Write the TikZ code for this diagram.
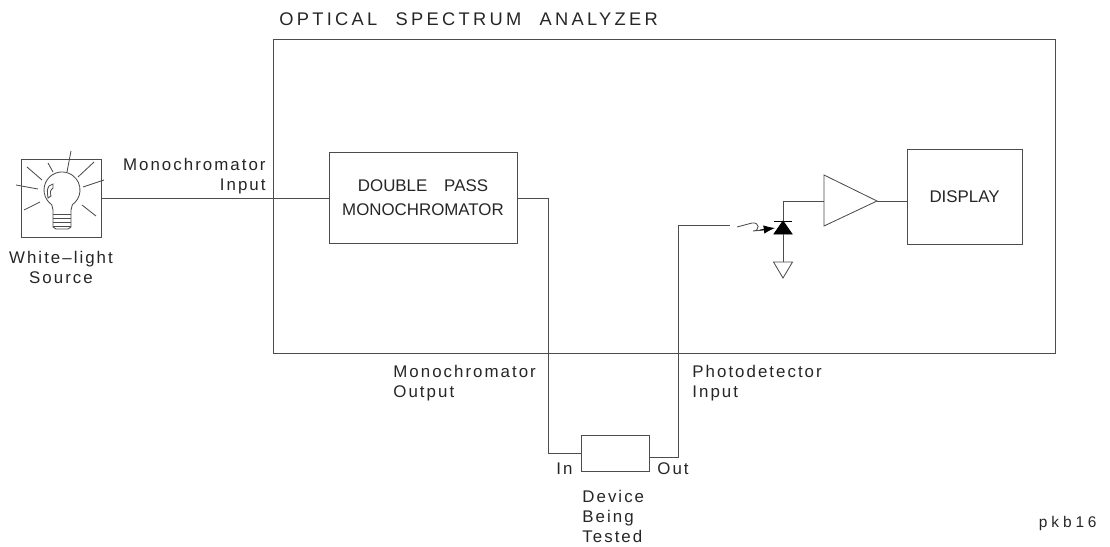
\documentclass[tikz,border=0pt]{standalone}
\usepackage{fontspec}
\setmainfont{Liberation Sans}
\newfontfamily\lblfont[LetterSpace=12]{Liberation Sans}
\newfontfamily\ttlfont[LetterSpace=18]{Liberation Sans}
\newfontfamily\tagfont[LetterSpace=25]{Liberation Sans}
\usetikzlibrary{arrows.meta}

\begin{document}
\begin{tikzpicture}[x=0.025cm,y=-0.025cm,line width=0.6pt,black!70,
    every node/.style={inner sep=0pt,text=black!85},
    blk/.style={draw,align=center,font=\fontsize{12}{17}\selectfont},
    lbl/.style={align=left,font=\lblfont\fontsize{12}{14.2}\selectfont}]
\useasboundingbox (0,0) rectangle (1110,546);

\node[blk,minimum width=19.525cm,minimum height=7.85cm] (osa) at (664.5,196) {};
\node[anchor=base west,font=\ttlfont\fontsize{13}{15}\selectfont] (ttl) at (279,25) {OPTICAL\quad SPECTRUM\quad ANALYZER};

\node[blk,minimum width=2cm,minimum height=1.95cm] (lamp) at (61,198) {};
\node[blk,minimum width=4.7cm,minimum height=2.275cm] (mono) at (423,198) {DOUBLE\quad PASS\\MONOCHROMATOR};
\node[blk,minimum width=1.7cm,minimum height=0.9cm] (dut) at (615,453) {};
\node[blk,minimum width=2.875cm,minimum height=2.375cm] (disp) at (964.5,196.5) {DISPLAY};

% lamp
\draw (51.7,204.7) arc (235:-55:0.45cm) -- (71,210) -- (71,227) -- (68,229) -- (56,229) -- (53,227) -- (53,210) -- cycle;
\foreach \ty in {214,218,222,226}
  \draw (53,\ty) -- (71,\ty);
\draw (53,184) -- (49,186) .. controls (47,190) .. (48,198) -- (51,196) .. controls (50,191) .. (53,188) -- cycle;
\foreach \ax/\ay/\bx/\by in {71/151/67/172, 48/163/53/172, 27/167/42/180, 16/185/38/189,
    24/210/40/202, 94/162/78/177, 104/180/83/187, 96/216/82/205}
  \draw (\ax,\ay) -- (\bx,\by);

% photodiode, amplifier
\coordinate (pdin) at (730,225);
\coordinate (dk) at (783,221);
\coordinate (da) at (783,234);
\coordinate (gnd) at (783,262);
\coordinate (ampin) at (824,201);
\coordinate (ampout) at (877,201);
\filldraw[black] (774,234) -- (792,234) -- (dk) -- cycle;
\draw[black] (774,221) -- (792,221);
\draw (737,227) -- (752,223) .. controls (760,222) and (760,231) .. (753,231) -- (764,230);
\draw[black,-{Latex[length=8pt,width=6pt]}] (760,230) -- (775,228);
\draw (gnd) ++(-9.5,0) -- ++(19,0) -- (783,278) -- cycle;
\draw (ampin |- 0,175) -- (ampout) -- (ampin |- 0,226) -- cycle;

% connections
\draw (lamp.east) -- (mono.west);
\draw (mono.east) -- ++(31,0) |- (dut.west);
\draw ([yshift=-1mm]dut.east) -- ++(29,0) |- (pdin);
\draw (da) -- (gnd);
\draw (dk) |- (ampin);
\draw (ampout) -- (ampout -| disp.west);

% labels
\node[lbl,anchor=base east,align=right] (minlbl) at (266,190) {Monochromator\\Input};
\node[lbl,anchor=base west] (moutlbl) at (393,397) {Monochromator\\Output};
\node[lbl,anchor=base west] (pdlbl) at (692,397) {Photodetector\\Input};
\node[lbl,anchor=base east] (inlbl) at (573,474) {In};
\node[lbl,anchor=base west] (outlbl) at (657,474) {Out};
\node[lbl,anchor=base west] (dutlbl) at (582,542) {Device\\Being\\Tested};
\node[lbl,anchor=base,align=center] (srclbl) at (61,283) {White\textendash light\\Source};
\node[anchor=base east,font=\tagfont\fontsize{11}{13}\selectfont] (tag) at (1097,527) {pkb16};
\end{tikzpicture}
\end{document}
